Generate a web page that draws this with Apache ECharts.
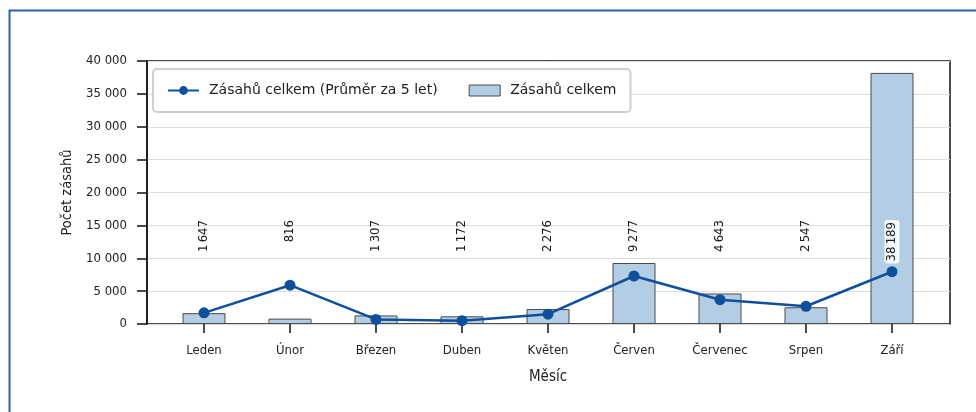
<!DOCTYPE html>
<html>
<head>
<meta charset="utf-8">
<script src="https://cdn.jsdelivr.net/npm/echarts@6/dist/echarts.min.js"></script>
<style>
html,body{margin:0;padding:0;background:#fff;}
#c{width:976px;height:412px;}
</style>
</head>
<body>
<div id="c"></div>
<script>
const categories = ['Leden','Únor','Březen','Duben','Květen','Červen','Červenec','Srpen','Září'];
const totals = [1647, 816, 1307, 1172, 2276, 9277, 4643, 2547, 38189];
const avg5 = [1700, 5900, 700, 500, 1500, 7300, 3700, 2700, 7950];
const yTicks = [0, 5000, 10000, 15000, 20000, 25000, 30000, 35000, 40000];
const barName = 'Zásahů celkem';
const lineName = 'Zásahů celkem (Průměr za 5 let)';

const fmt = v => String(v).replace(/\B(?=(\d{3})+(?!\d))/g, '\u2009');
const fmtY = v => String(v).replace(/\B(?=(\d{3})+(?!\d))/g, ' ');
const COND = '"DejaVu Sans Condensed", "DejaVu Sans", sans-serif';

const chart = echarts.init(document.getElementById('c'), null, {renderer: 'canvas'});
const option = {
  animation: false,
  backgroundColor: '#fff',
  graphic: [{
    type: 'rect', left: 7, top: 8, shape: {width: 1100, height: 600},
    style: {fill: 'none', stroke: '#2b63a6', lineWidth: 2}, silent: true, z: 100
  }],
  grid: [
    {left: 147, right: 26, top: 61, bottom: 88, show: true, borderColor: '#111', borderWidth: 1.5, backgroundColor: 'transparent'},
    {left: 161, right: 41, top: 61, bottom: 88}
  ],
  legend: {
    left: 153, top: 69,
    orient: 'horizontal',
    data: [{name: lineName}, {name: barName, icon: 'rect', itemStyle: {borderWidth: 1, borderColor: '#4a4a4a'}}],
    backgroundColor: '#fff',
    borderColor: '#cfcfcf', borderWidth: 2, borderRadius: 4,
    padding: [13, 14, 13, 14],
    itemWidth: 31, itemHeight: 11, itemGap: 31,
    textStyle: {fontFamily: '"DejaVu Sans", sans-serif', fontSize: 14, color: '#222', padding: [0, 0, 0, 5], lineHeight: 17},
    z: 10
  },
  xAxis: [
    {gridIndex: 0, type: 'value', min: 0, max: 1, show: false},
    {gridIndex: 1, type: 'category', data: categories,
     axisLine: {show: false},
     axisTick: {show: true, alignWithLabel: true, length: 9, lineStyle: {color: '#111', width: 1.5}},
     axisLabel: {fontFamily: COND, fontSize: 13, color: '#222', margin: 20},
     name: 'Měsíc', nameLocation: 'middle', nameGap: 46,
     nameTextStyle: {fontFamily: COND, fontSize: 15, color: '#222'}}
  ],
  yAxis: [
    {gridIndex: 0, type: 'value', min: 0, max: 40000, interval: 5000,
     axisLine: {show: true, lineStyle: {color: '#111', width: 1.5}},
     axisTick: {show: true, length: 10, lineStyle: {color: '#111', width: 1.5}},
     splitLine: {show: true, lineStyle: {color: '#dcdcdc', width: 1}},
     axisLabel: {fontFamily: COND, fontSize: 13, color: '#222', margin: 20,
       formatter: v => yTicks.includes(v) ? fmtY(v) : ''},
     name: 'Počet zásahů', nameLocation: 'middle', nameGap: 72, nameRotate: 90,
     nameTextStyle: {fontFamily: COND, fontSize: 14.5, color: '#222'}},
    {gridIndex: 1, type: 'value', min: 0, max: 40000, show: false}
  ],
  series: [
    {name: barName, type: 'bar', xAxisIndex: 1, yAxisIndex: 1, data: totals, barWidth: 43,
     itemStyle: {color: '#b3cde4', borderColor: '#4a4a4a', borderWidth: 1}, z: 2},
    {name: lineName, type: 'line', xAxisIndex: 1, yAxisIndex: 1, data: avg5,
     symbol: 'circle', symbolSize: 11,
     lineStyle: {color: '#0f4f9b', width: 2.5}, itemStyle: {color: '#0f4f9b'}, z: 4},
    {name: 'labels', type: 'custom', xAxisIndex: 1, yAxisIndex: 1,
     data: totals.map((v, i) => [i, v]),
     renderItem: (params, api) => {
       const i = api.value(0), v = api.value(1);
       const p = api.coord([i, 0]);
       const top = params.coordSys.y + 159;
       const big = v > 30000;
       return {type: 'text', x: p[0], y: top, rotation: Math.PI / 2, z2: 10,
         style: {text: fmt(v), align: 'right', verticalAlign: 'middle',
           font: '13px ' + COND, fill: '#1a1a1a',
           backgroundColor: big ? 'rgba(255,255,255,0.85)' : null,
           padding: big ? [1, 2, 1, 2] : 0, borderRadius: big ? 3 : 0}};
     }, z: 6, silent: true}
  ]
};
chart.setOption(option);
</script>
</body>
</html>
